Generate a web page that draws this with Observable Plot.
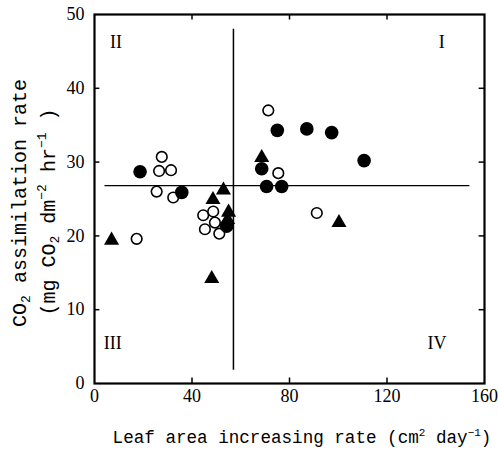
<!DOCTYPE html>
<html>
<head>
<meta charset="utf-8">
<script src="https://cdn.jsdelivr.net/npm/d3@7"></script>
<script src="https://cdn.jsdelivr.net/npm/@observablehq/plot@0.6"></script>
<style>
  html, body { margin: 0; padding: 0; background: #fff; }
</style>
</head>
<body>
<div id="chart"></div>
<script>
// Open circles
const openX = [27.6, 26.5, 31.4, 25.5, 32.3, 17.3, 44.6, 48.7, 45.3, 49.4, 51.2, 71.3, 75.4, 91.2];
const openY = [30.7, 28.8, 28.9, 26.0, 25.2, 19.6, 22.8, 23.3, 20.9, 21.8, 20.3, 37.0, 28.5, 23.1];
// Filled circles
const filledX = [18.7, 35.8, 54.2, 68.6, 75.0, 87.1, 97.3, 110.6, 70.6, 76.8];
const filledY = [28.7, 25.9, 21.3, 29.1, 34.3, 34.5, 34.0, 30.2, 26.7, 26.7];
// Filled triangles
const triX = [7.0, 48.1, 48.6, 52.9, 55.0, 54.6, 68.6, 100.3];
const triY = [19.4, 14.2, 24.9, 26.2, 23.2, 22.2, 30.6, 21.8];

// Quadrant labels
const quadLabels = ["I", "II", "III", "IV"];
const quadX = [142.5, 8.8, 7.5, 140.5];
const quadY = [46.2, 46.2, 5.4, 5.4];

// Dividing lines
const vLineX = 57;
const vLineY = [1.8, 48];
const hLineY = 26.8;
const hLineX = [4.3, 154];

// Ticks
const xTicks = [0, 40, 80, 120, 160];
const yTicks = [0, 10, 20, 30, 40, 50];
const xInner = [40, 80, 120];
const yInner = [10, 20, 30, 40];

const toPts = (xs, ys) => xs.map((x, i) => ({x, y: ys[i]}));

const serif = "'Liberation Serif', 'DejaVu Serif', serif";
const mono = "'Liberation Mono', 'Courier New', monospace";

const chart = Plot.plot({
  width: 498,
  height: 452,
  marginLeft: 94,
  marginRight: 14,
  marginTop: 14,
  marginBottom: 69,
  style: {background: "#fff", color: "#000"},
  x: {domain: [0, 160]},
  y: {domain: [0, 50]},
  marks: [
    Plot.axisX({ticks: xTicks, tickSize: 0, tickPadding: 6, label: null, fontSize: 18, fontFamily: serif}),
    Plot.axisY({ticks: yTicks, tickSize: 0, tickPadding: 10, label: null, fontSize: 18, fontFamily: serif}),
    // inward ticks: bottom, top, left, right
    Plot.ruleX(xInner, {y1: 0, y2: 0.75, stroke: "#000", strokeWidth: 1.5}),
    Plot.ruleX(xInner, {y1: 50, y2: 49.25, stroke: "#000", strokeWidth: 1.5}),
    Plot.ruleY(yInner, {x1: 0, x2: 2.2, stroke: "#000", strokeWidth: 1.5}),
    Plot.ruleY(yInner, {x1: 160, x2: 157.8, stroke: "#000", strokeWidth: 1.5}),
    // dividing lines
    Plot.ruleX([vLineX], {y1: vLineY[0], y2: vLineY[1], stroke: "#000", strokeWidth: 1.5}),
    Plot.ruleY([hLineY], {x1: hLineX[0], x2: hLineX[1], stroke: "#000", strokeWidth: 1.3}),
    // points
    Plot.dot(toPts(openX, openY), {x: "x", y: "y", r: 5.3, fill: "#fff", stroke: "#000", strokeWidth: 1.6}),
    Plot.dot(toPts(filledX, filledY), {x: "x", y: "y", r: 6.8, fill: "#000", stroke: "none"}),
    Plot.dot(toPts(triX, triY), {x: "x", y: "y", r: 5.6, symbol: "triangle", fill: "#000", stroke: "none"}),
    // quadrant labels
    Plot.text(quadLabels.map((t, i) => ({t, x: quadX[i], y: quadY[i]})), {x: "x", y: "y", text: "t", fontSize: 18, fontFamily: serif, fill: "#000"}),
    Plot.frame({stroke: "#000", strokeWidth: 2.2})
  ]
});

document.getElementById("chart").appendChild(chart);

// Axis titles with sub/superscripts
const svg = d3.select(chart);

const xl = svg.append("text")
  .attr("x", 302).attr("y", 443)
  .attr("text-anchor", "middle")
  .attr("font-family", mono).attr("font-size", 17.6).attr("fill", "#000");
xl.append("tspan").text("Leaf area increasing rate (cm");
xl.append("tspan").attr("dy", -7).attr("font-size", 11).text("2");
xl.append("tspan").attr("dy", 7).text(" day");
xl.append("tspan").attr("dy", -7).attr("font-size", 11).text("−1");
xl.append("tspan").attr("dy", 7).text(")");

const yl1 = svg.append("text")
  .attr("transform", "translate(26,203) rotate(-90)")
  .attr("text-anchor", "middle")
  .attr("font-family", mono).attr("font-size", 20).attr("fill", "#000");
yl1.append("tspan").text("CO");
yl1.append("tspan").attr("dy", 4).attr("font-size", 13).text("2");
yl1.append("tspan").attr("dy", -4).text(" assimilation rate");

const yl2 = svg.append("text")
  .attr("transform", "translate(55,212) rotate(-90)")
  .attr("text-anchor", "middle")
  .attr("font-family", mono).attr("font-size", 20).attr("fill", "#000");
yl2.append("tspan").text("(mg CO");
yl2.append("tspan").attr("dy", 4).attr("font-size", 13).text("2");
yl2.append("tspan").attr("dy", -4).text(" dm");
yl2.append("tspan").attr("dy", -9).attr("font-size", 13).text("−2");
yl2.append("tspan").attr("dy", 9).text(" hr");
yl2.append("tspan").attr("dy", -9).attr("font-size", 13).text("−1");
yl2.append("tspan").attr("dy", 9).text(" )");
</script>
</body>
</html>
